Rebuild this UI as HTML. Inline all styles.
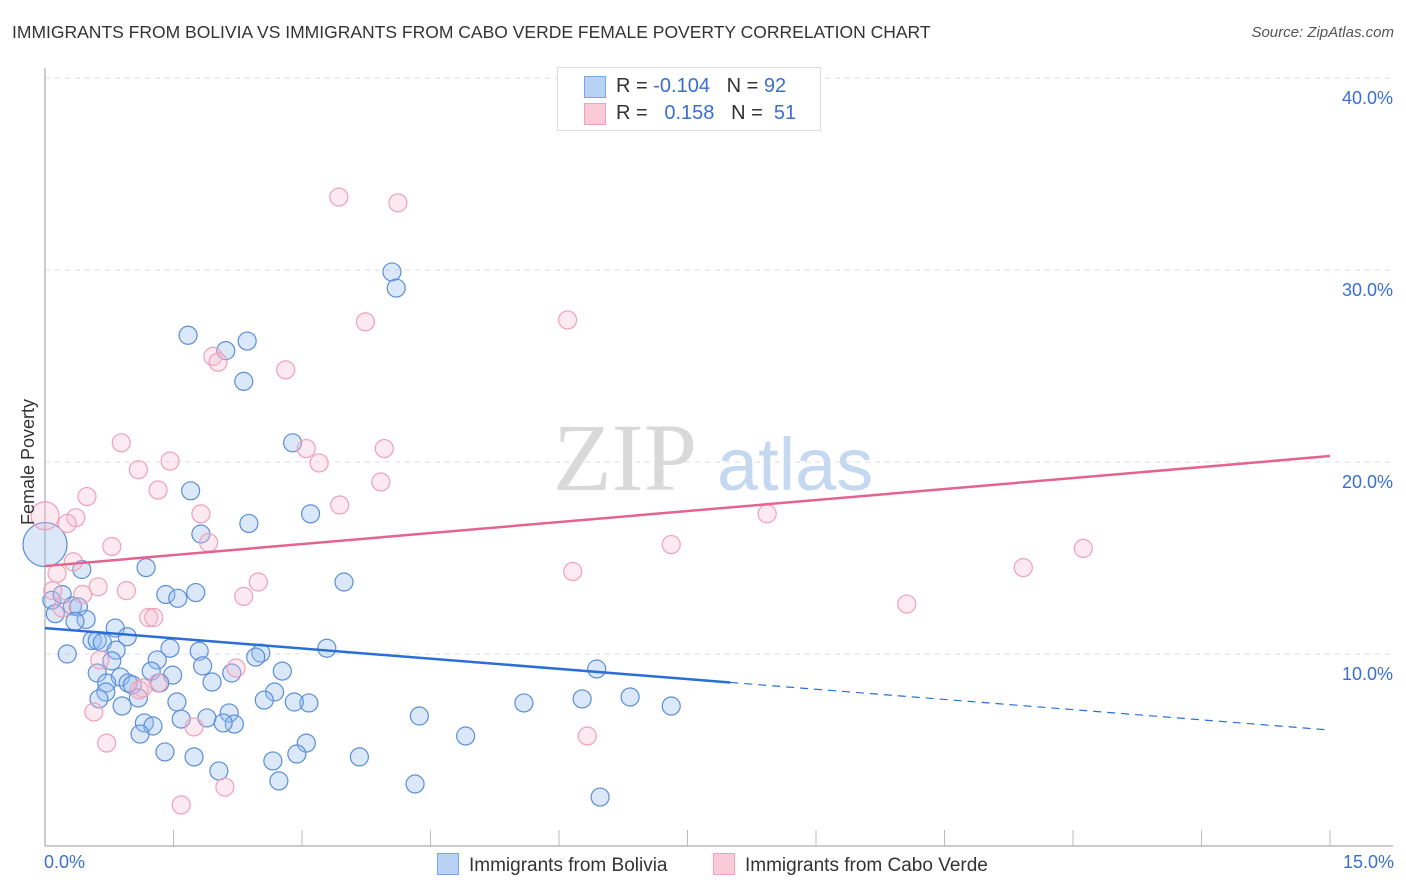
<!DOCTYPE html>
<html><head><meta charset="utf-8"><style>
body{margin:0;background:#fff;font-family:"Liberation Sans",sans-serif;}
#wrap{position:relative;width:1406px;height:892px;overflow:hidden;}
.t{position:absolute;white-space:nowrap;}
</style></head><body>
<div id="wrap">
<div class="t" style="left:12px;top:22px;font-size:17.5px;color:#333;">IMMIGRANTS FROM BOLIVIA VS IMMIGRANTS FROM CABO VERDE FEMALE POVERTY CORRELATION CHART</div>
<div class="t" style="right:12px;top:24px;font-size:15px;color:#555;font-style:italic;">Source: ZipAtlas.com</div>
<svg id="svg" width="1406" height="892" style="position:absolute;left:0;top:0"></svg>
<div class="t" style="left:557px;top:67px;width:262px;height:62px;border:1px solid #ddd;background:#fff;font-size:20px;color:#333;">
 <div style="position:absolute;left:26px;top:8px;width:20px;height:20px;background:#b8d2f5;border:1px solid #7aa6e6;"></div>
 <div style="position:absolute;left:26px;top:35px;width:20px;height:20px;background:#fbcad8;border:1px solid #f0a0b8;"></div>
 <div class="t" style="left:58px;top:7px">R = <span style="color:#3a6fd1">-0.104</span>&nbsp;&nbsp;&nbsp;N = <span style="color:#3a6fd1">92</span></div>
 <div class="t" style="left:58px;top:34px">R = &nbsp;&nbsp;<span style="color:#3a6fd1">0.158</span>&nbsp;&nbsp;&nbsp;N = &nbsp;<span style="color:#3a6fd1">51</span></div>
</div>
<div class="t" style="left:18px;top:525px;font-size:18px;color:#333;transform:rotate(-90deg);transform-origin:0 0;">Female Poverty</div>
<div class="t" style="left:44px;top:852px;font-size:18px;color:#3a6fd1;">0.0%</div>
<div class="t" style="right:12px;top:852px;font-size:18px;color:#3a6fd1;">15.0%</div>
<div class="t" style="left:437px;top:853px;font-size:19px;color:#333;"><span style="display:inline-block;width:20px;height:20px;background:#b8d2f5;border:1px solid #7aa6e6;vertical-align:-4px;margin-right:10px"></span>Immigrants from Bolivia</div>
<div class="t" style="left:713px;top:853px;font-size:19px;color:#333;"><span style="display:inline-block;width:20px;height:20px;background:#fbcad8;border:1px solid #f0a0b8;vertical-align:-4px;margin-right:10px"></span>Immigrants from Cabo Verde</div>
</div>
<script>
const yTicks=[10,20,30,40];
const blueX=[4.05,4.10,1.67,2.36,2.11,2.32,2.89,1.70,3.10,2.38,1.82,1.18,0.43,3.49,1.41,1.76,1.55,0.08,0.20,0.32,0.39,0.12,0.48,0.35,0.82,0.96,0.55,0.61,0.67,0.26,1.46,1.80,0.83,3.29,2.52,2.46,6.44,1.31,1.84,2.77,0.78,0.61,1.24,1.49,2.18,0.88,1.95,0.97,1.02,0.72,1.34,0.71,1.09,2.68,1.54,2.56,3.08,2.91,0.63,0.90,5.59,6.27,6.83,7.31,4.37,1.59,1.89,2.15,2.21,2.08,1.16,1.26,1.11,3.05,4.91,2.94,1.40,1.74,3.67,2.66,2.03,2.73,4.32,6.48,0];
const blueY=[29.9,29.06,26.6,26.3,25.8,24.2,21.0,18.5,17.3,16.8,16.25,14.5,14.4,13.75,13.1,13.2,12.9,12.8,13.1,12.5,12.45,12.1,11.8,11.7,11.35,10.9,10.7,10.7,10.6,10.0,10.3,10.15,10.2,10.3,10.05,9.84,9.22,9.69,9.38,9.11,9.64,9.01,9.11,8.9,9.01,8.8,8.54,8.49,8.39,8.49,8.49,8.02,7.71,8.02,7.5,7.6,7.45,7.5,7.66,7.29,7.45,7.66,7.76,7.29,6.77,6.61,6.67,6.93,6.35,6.41,6.41,6.25,5.83,5.36,5.73,4.79,4.9,4.64,4.64,4.43,3.91,3.39,3.23,2.55,15.7];
const blueR=[9,9,9,9,9,9,9,9,9,9,9,9,9,9,9,9,9,9,9,9,9,9,9,9,9,9,9,9,9,9,9,9,9,9,9,9,9,9,9,9,9,9,9,9,9,9,9,9,9,9,9,9,9,9,9,9,9,9,9,9,9,9,9,9,9,9,9,9,9,9,9,9,9,9,9,9,9,9,9,9,9,9,9,9,22];
const pinkX=[3.43,4.12,3.74,6.10,1.96,2.02,2.81,0.89,3.96,3.05,1.09,1.46,3.20,3.92,1.32,0.49,3.44,1.82,8.43,0.36,0.26,0.78,1.91,7.31,12.12,0.33,0.14,11.42,6.16,2.49,0.62,0.95,2.32,0.44,10.06,0.09,1.21,1.27,0.20,0.64,2.23,1.32,1.14,1.10,0.57,1.74,0.72,6.33,1.59,2.10,0];
const pinkY=[33.8,33.5,27.3,27.4,25.5,25.2,24.8,21.0,20.7,20.7,19.6,20.05,19.95,18.96,18.54,18.2,17.76,17.3,17.3,17.1,16.8,15.6,15.8,15.7,15.5,14.8,14.2,14.5,14.3,13.75,13.5,13.3,13.0,13.1,12.6,13.3,11.9,11.9,12.4,9.69,9.27,8.49,8.23,8.13,6.98,6.2,5.36,5.73,2.14,3.07,17.2];
const pinkR=[9,9,9,9,9,9,9,9,9,9,9,9,9,9,9,9,9,9,9,9,9,9,9,9,9,9,9,9,9,9,9,9,9,9,9,9,9,9,9,9,9,9,9,9,9,9,9,9,9,9,14];
const blueTrend=[11.35,6.04];
const blueSolidEnd=8.0;
const pinkTrend=[14.58,20.31];

const NS='http://www.w3.org/2000/svg';
const svg=document.getElementById('svg');
const X=v=>45+v/15*1285;
const Y=v=>846-v*19.2;
function mk(tag,a){const e=document.createElementNS(NS,tag);for(const k in a)e.setAttribute(k,a[k]);svg.appendChild(e);return e;}
// watermark
let w=mk('text',{x:553,y:490,'font-size':96,'font-family':'Liberation Serif, serif',fill:'#d9d9d9'});w.textContent='ZIP';


let w2=mk('text',{x:717,y:490,'font-size':74,'font-family':'Liberation Sans, sans-serif',fill:'#c5d8f1'});w2.textContent='atlas';


yTicks.forEach(t=>{
 const g=mk('line',{x1:45,x2:1393,y1:Y(t),y2:Y(t),stroke:'#dcdcdc','stroke-dasharray':'5,5'});
 
 
 const l=mk('text',{x:1393,y:Y(t)+26,'text-anchor':'end','font-size':18,fill:'#3a6fd1','font-family':'Liberation Sans, sans-serif'});
 l.textContent=t.toFixed(1)+'%';
 
 
});
let ax=mk('line',{x1:45,x2:45,y1:68,y2:846,stroke:'#bbb','stroke-width':1.5});


let bx=mk('line',{x1:45,x2:1393,y1:846,y2:846,stroke:'#bbb','stroke-width':1.5});


for(let i=1;i<=10;i++){const tk=mk('line',{x1:X(i*1.5),x2:X(i*1.5),y1:830,y2:846,stroke:'#bbb'});
 
 }
blueX.forEach((v,i)=>{const c=mk('circle',{cx:X(v),cy:Y(blueY[i]),r:blueR[i],fill:'rgba(150,190,240,0.35)',stroke:'#5b8ed8','stroke-width':1.2});
 
 });
pinkX.forEach((v,i)=>{const c=mk('circle',{cx:X(v),cy:Y(pinkY[i]),r:pinkR[i],fill:'rgba(248,185,205,0.3)',stroke:'#f0a0b8','stroke-width':1.2});
 
 });
const by=v=>blueTrend[0]+(blueTrend[1]-blueTrend[0])*v/15;
let bl=mk('line',{x1:X(0),y1:Y(by(0)),x2:X(blueSolidEnd),y2:Y(by(blueSolidEnd)),stroke:'#2a6fd6','stroke-width':2.5});


let bd=mk('line',{x1:X(blueSolidEnd),y1:Y(by(blueSolidEnd)),x2:X(15),y2:Y(by(15)),stroke:'#2a6fd6','stroke-width':1.2,'stroke-dasharray':'8,6'});


let pl=mk('line',{x1:X(0),y1:Y(pinkTrend[0]),x2:X(15),y2:Y(pinkTrend[1]),stroke:'#e4648e','stroke-width':2.5});


</script>
</body></html>
